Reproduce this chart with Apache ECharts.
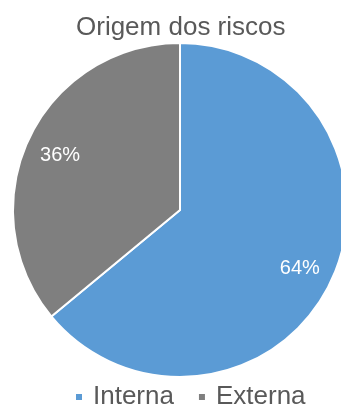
<!DOCTYPE html>
<html>
<head>
<meta charset="utf-8">
<script src="https://cdn.jsdelivr.net/npm/echarts@6/dist/echarts.min.js"></script>
<style>
  html, body { margin: 0; padding: 0; background: #fff; }
  #chart_container { width: 341px; height: 408px; }
</style>
</head>
<body>
<div id="chart_container"></div>
<script>
"use strict";

// values
const categories = ['Interna', 'Externa'];
const shares = [64, 36];
const colors = ['#5B9BD5', '#7F7F7F'];

const pieData = categories.map((name, i) => ({ name: name, value: shares[i] }));

let pageLoaded = () => {
    let chartDom = document.getElementById('chart_container');
    let myChart = echarts.init(chartDom);

    const font = 'Liberation Sans, Arial, sans-serif';

    let optEchart = {
        animation: false,
        color: colors,
        title: {
            text: 'Origem dos riscos',
            left: 76,
            top: 13,
            padding: 0,
            textStyle: { fontSize: 26, fontWeight: 'normal', color: '#595959', fontFamily: font, lineHeight: 30 }
        },
        legend: {
            data: categories,
            left: 74,
            top: 383,
            padding: 0,
            icon: 'rect',
            itemWidth: 8,
            itemHeight: 8,
            itemGap: 23,
            textStyle: { fontSize: 26, color: '#595959', fontFamily: font, lineHeight: 28, padding: [0, 0, 0, 5] }
        },
        series: [
            {
                type: 'pie',
                center: [180, 210],
                radius: [0, 167],
                startAngle: 90,
                clockwise: true,
                silent: true,
                itemStyle: { borderColor: '#fff', borderWidth: 2 },
                label: { show: false },
                labelLine: { show: false },
                data: pieData
            },
            {
                // transparent ring used only to place labels further out
                type: 'pie',
                center: [180, 212],
                radius: [92, 167],
                startAngle: 90,
                clockwise: true,
                silent: true,
                itemStyle: { color: 'rgba(0,0,0,0)' },
                label: {
                    show: true,
                    position: 'inside',
                    formatter: '{c}%',
                    color: '#fff',
                    fontSize: 20,
                    fontFamily: font
                },
                labelLine: { show: false },
                data: pieData
            }
        ]
    };

    myChart.setOption(optEchart);
    console.log('pageLoaded() complete');
};

window.addEventListener('load', pageLoaded, false);
</script>
</body>
</html>
